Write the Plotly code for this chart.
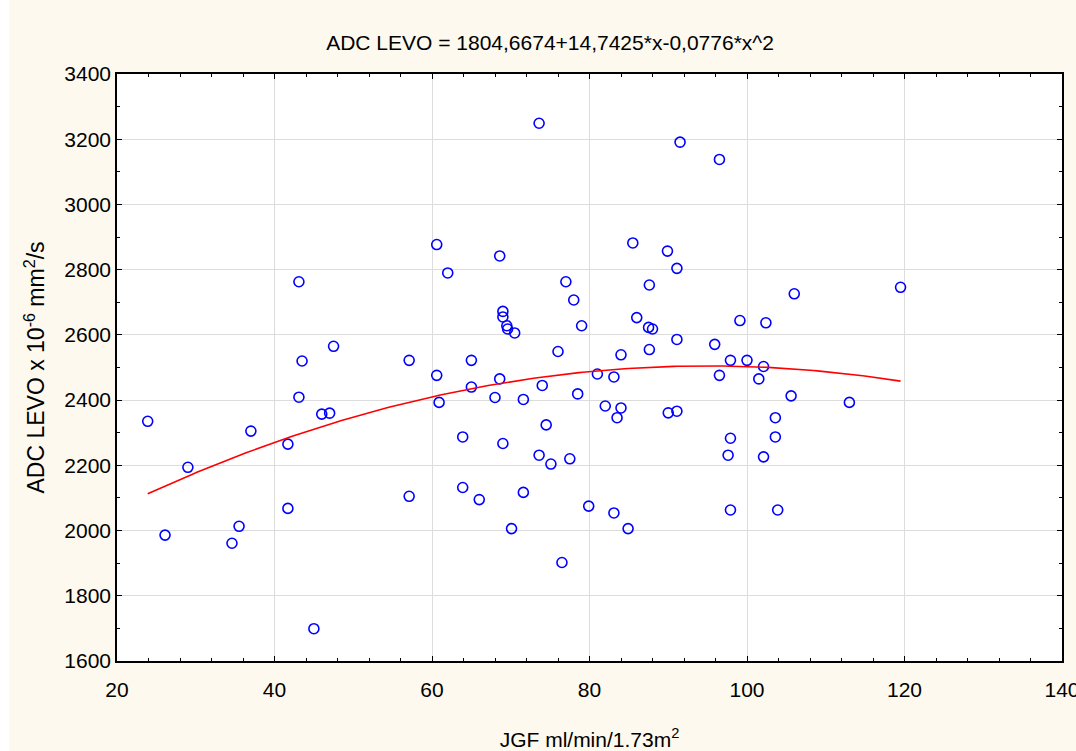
import numpy as np
import plotly.graph_objects as go

# JGF (ml/min/1.73m2) and ADC LEVO (x10^-6 mm2/s)
jgf = [23.9, 26.1, 29.0, 34.6, 35.5, 37.0, 41.7, 41.7, 43.1, 43.1, 43.5, 45.0, 46.0, 47.0, 47.5,
       57.1, 57.1, 60.6, 60.9, 60.6, 62.0, 65.0, 65.0, 63.9, 63.9, 66.0, 68.6, 68.6, 68.0, 69.0,
       69.0, 69.0, 69.5, 69.6, 70.5, 70.1, 71.6, 71.6, 73.6, 74.0, 74.5, 73.6, 75.1, 77.5, 76.5,
       76.0, 77.0, 78.0, 79.0, 78.5, 79.9, 81.0, 83.1, 82.0, 84.0, 83.5, 83.1, 84.9, 84.0, 85.5,
       86.0, 87.5, 88.0, 87.6, 87.6, 89.9, 91.1, 91.1, 91.5, 90.0, 91.1, 95.9, 96.5, 96.5, 97.9,
       100.0, 99.1, 97.9, 97.6, 97.9, 102.1, 101.5, 102.4, 103.6, 103.6, 102.1, 103.9, 105.6,
       106.0, 113.0, 119.5]
adc = [2335, 1986, 2194, 1961, 2013, 2305, 2265, 2068, 2763, 2409, 2520, 1699, 2357, 2360, 2565,
       2522, 2105, 2476, 2393, 2877, 2790, 2522, 2440, 2287, 2132, 2095, 2842, 2465, 2408, 2267,
       2672, 2655, 2628, 2618, 2606, 2006, 2402, 2117, 3249, 2445, 2324, 2231, 2204, 2220, 1902,
       2549, 2763, 2707, 2628, 2419, 2075, 2480, 2471, 2382, 2376, 2346, 2054, 2006, 2539, 2882,
       2653, 2623, 2618, 2753, 2555, 2857, 2804, 2586, 3191, 2361, 2366, 2571, 3138, 2476, 2522,
       2522, 2644, 2283, 2231, 2063, 2503, 2465, 2637, 2346, 2287, 2226, 2063, 2413,
       2726, 2393, 2746]

# fitted model from the chart title
b0, b1, b2 = 1804.6674, 14.7425, -0.0776

x_ticks = [20, 40, 60, 80, 100, 120, 140]
y_ticks = [1600, 1800, 2000, 2200, 2400, 2600, 2800, 3000, 3200, 3400]

xf = np.linspace(min(jgf), max(jgf), 200)
yf = b0 + b1 * xf + b2 * xf ** 2

font_family = "Liberation Sans, Arial, sans-serif"
cream = "#FDF9EE"

W, H = 1076, 751
ML, MR, MT, MB = 117, 14, 74, 90
PW, PH = W - ML - MR, H - MT - MB

fig = go.Figure()
fig.add_trace(go.Scatter(x=jgf, y=adc, mode="markers",
                         marker=dict(symbol="circle-open", size=10, color="#0000FF",
                                     line=dict(width=1.6, color="#0000FF")),
                         showlegend=False))
fig.add_trace(go.Scatter(x=xf, y=yf, mode="lines",
                         line=dict(color="#FF0000", width=1.6), showlegend=False))

axis_common = dict(showline=True, linecolor="black", linewidth=1.5, mirror="allticks",
                   ticks="inside", ticklen=5, tickcolor="black", tickwidth=1,
                   showgrid=True, gridcolor="#DCDCDC", gridwidth=1, zeroline=False,
                   ticklabeloverflow="allow",
                   tickfont=dict(family=font_family, size=21, color="black"))

fig.update_xaxes(range=[20, 140], tickvals=x_ticks, ticktext=[str(v) for v in x_ticks],
                 ticklabelstandoff=9,
                 minor=dict(dtick=4, tick0=20, ticks="inside", ticklen=3, tickcolor="black",
                            showgrid=False),
                 title=dict(text="JGF ml/min/1.73m<sup>2</sup>",
                            font=dict(family=font_family, size=21, color="black"), standoff=32),
                 **axis_common)
fig.update_yaxes(range=[1600, 3400], tickvals=y_ticks, ticktext=[str(v) for v in y_ticks],
                 minor=dict(dtick=100, tick0=1600, ticks="inside", ticklen=3, tickcolor="black",
                            showgrid=False),
                 title=dict(text="ADC LEVO x 10<sup>-6</sup> mm<sup>2</sup>/s",
                            font=dict(family=font_family, size=23, color="black"), standoff=13),
                 **axis_common)

fig.update_layout(
    width=W, height=H,
    margin=dict(l=ML, r=MR, t=MT, b=MB, autoexpand=False),
    paper_bgcolor=cream, plot_bgcolor="white",
    title=dict(text="ADC LEVO = 1804,6674+14,7425*x-0,0776*x^2",
               font=dict(family=font_family, size=21, color="black"),
               x=550 / W, xanchor="center", xref="container",
               y=1 - 43 / H, yanchor="middle", yref="container"),
    shapes=[
        dict(type="rect", xref="paper", yref="paper", layer="above",
             x0=-0.3, x1=1.3, y0=(PH + MB - 12) / PH, y1=(PH + MB + 10) / PH,
             fillcolor="white", line=dict(width=0)),
        dict(type="rect", xref="paper", yref="paper", layer="above",
             x0=-0.3, x1=(9 - ML) / PW, y0=-0.3, y1=1.3,
             fillcolor="white", line=dict(width=0)),
    ],
)

fig.write_html("out.html", config={"displayModeBar": False},
               post_script="document.body.style.margin='0';document.body.style.overflow='hidden';")
